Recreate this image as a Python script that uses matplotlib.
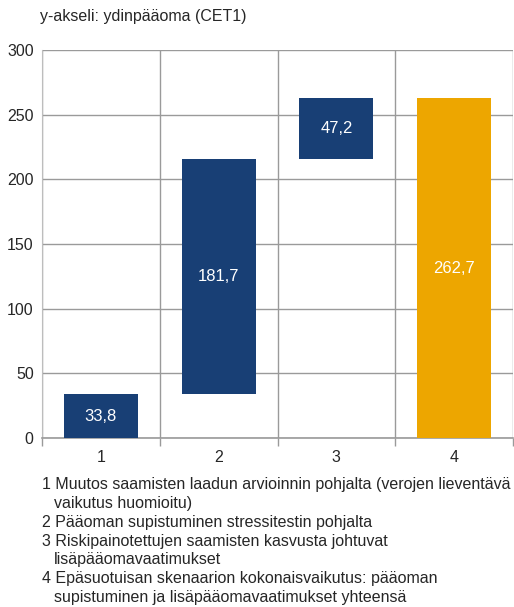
import matplotlib
matplotlib.use("Agg")
import matplotlib.pyplot as plt
import numpy as np

plt.rcParams['font.family'] = ['Liberation Sans', 'DejaVu Sans']

# Data
categories = ['1', '2', '3', '4']
values = [33.8, 181.7, 47.2, 262.7]
labels = ['33,8', '181,7', '47,2', '262,7']
is_total = [False, False, False, True]
notes = [
    ["1 Muutos saamisten laadun arvioinnin pohjalta (verojen lieventävä",
     "vaikutus huomioitu)"],
    ["2 Pääoman supistuminen stressitestin pohjalta"],
    ["3 Riskipainotettujen saamisten kasvusta johtuvat",
     "lisäpääomavaatimukset"],
    ["4 Epäsuotuisan skenaarion kokonaisvaikutus: pääoman",
     "supistuminen ja lisäpääomavaatimukset yhteensä"],
]

navy = '#183f75'
orange = '#eda600'
grid_col = '#9a9a9a'
txt = '#262626'
fs = 11.5

fig = plt.figure(figsize=(5.14, 6.07), dpi=100)
W, H = 514, 607
ax = fig.add_axes([42 / W, 1 - 438 / H, (513 - 42) / W, (438 - 50) / H])

x = np.arange(1, len(categories) + 1)
bottoms = []
running = 0
for v, tot in zip(values, is_total):
    if tot:
        bottoms.append(0)
    else:
        bottoms.append(running)
        running += v
colors = [orange if t else navy for t in is_total]

ax.bar(x, values, bottom=bottoms, width=0.63, color=colors, zorder=3)
for xi, b, v, lab in zip(x, bottoms, values, labels):
    ax.text(xi, b + v / 2, lab, color='white', ha='center', va='center',
            fontsize=12, zorder=4)

ax.set_xlim(0.5, 4.5)
ax.set_ylim(0, 300)
ax.set_yticks(np.arange(0, 301, 50))
ax.set_xticks(x)
ax.set_xticklabels(categories)
ax.set_xticks(np.arange(0.5, 4.6, 1), minor=True)
ax.tick_params(axis='x', which='major', length=0, pad=9, labelsize=fs, colors=txt)
ax.tick_params(axis='x', which='minor', length=6, color=grid_col, width=1)
ax.tick_params(axis='y', length=0, pad=6, labelsize=fs, colors=txt)

ax.grid(True, axis='y', color=grid_col, linewidth=1, zorder=0)
ax.grid(True, axis='x', which='minor', color=grid_col, linewidth=1, zorder=0)
for s in ['top', 'right']:
    ax.spines[s].set_visible(False)
ax.spines['left'].set_color('#bdbdbd')
ax.spines['bottom'].set_color(grid_col)
ax.spines['bottom'].set_linewidth(1.2)

fig.text(40 / W, 1 - 17 / H, 'y-akseli: ydinpääoma (CET1)', fontsize=fs,
         va='center', ha='left', color=txt)

# footnotes, one line at a time
y = 485
for note in notes:
    for i, line in enumerate(note):
        xpos = 42 if i == 0 else 54
        fig.text(xpos / W, 1 - y / H, line, fontsize=fs,
                 va='center', ha='left', color=txt)
        y += 18.7

fig.savefig('out.png', dpi=100)
